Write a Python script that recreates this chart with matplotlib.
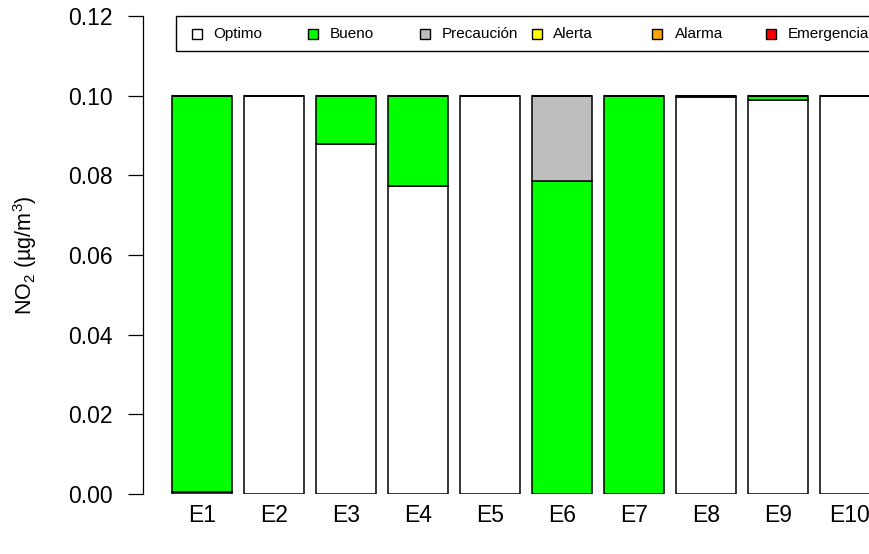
import matplotlib
matplotlib.use("Agg")
import matplotlib.pyplot as plt
from matplotlib.patches import Rectangle

# data
stations = ["E1", "E2", "E3", "E4", "E5", "E6", "E7", "E8", "E9", "E10"]
categories = ["Optimo", "Bueno", "Precaución", "Alerta", "Alarma", "Emergencia"]
colors = ["white", "#00FF00", "#BEBEBE", "#FFFF00", "#FFA500", "#FF0000"]

optimo = [0.0005, 0.1, 0.0879, 0.0772, 0.1, 0.0, 0.0, 0.0996, 0.0990, 0.1]
bueno = [0.0995, 0.0, 0.0121, 0.0228, 0.0, 0.0787, 0.1, 0.0004, 0.0010, 0.0]
precaucion = [0, 0, 0, 0, 0, 0.0213, 0, 0, 0, 0]
alerta = [0] * 10
alarma = [0] * 10
emergencia = [0] * 10
series = [optimo, bueno, precaucion, alerta, alarma, emergencia]

yticks = [0.00, 0.02, 0.04, 0.06, 0.08, 0.10, 0.12]

plt.rcParams["font.family"] = ["Liberation Sans", "DejaVu Sans"]
plt.rcParams["mathtext.fontset"] = "custom"
plt.rcParams["mathtext.rm"] = "Liberation Sans"
plt.rcParams["mathtext.it"] = "Liberation Sans"

W, H = 869, 554
fig = plt.figure(figsize=(W / 100, H / 100), dpi=100)


def fx(px):
    return px / W


def fy(py):
    return 1 - py / H


# axes placed in image pixels (R barplot layout, right side cropped)
ax = fig.add_axes([fx(143), fy(494), fx(869 - 143), (494 - 16) / H])
ax.set_xlim((143 - 160) / 60, (869 - 160) / 60)
ax.set_ylim(0, 0.12)

centers = [0.7 + 1.2 * i for i in range(len(stations))]
bottom = [0.0] * len(stations)
for vals, col in zip(series, colors):
    ax.bar(centers, vals, width=1.0, bottom=bottom, color=col,
           edgecolor="black", linewidth=1.1, clip_on=True)
    bottom = [b + v for b, v in zip(bottom, vals)]

for s in ["top", "right", "bottom"]:
    ax.spines[s].set_visible(False)
ax.spines["left"].set_bounds(0, 0.12)
ax.spines["left"].set_linewidth(0.9)
ax.set_yticks(yticks)
ax.set_yticklabels([f"{v:.2f}" for v in yticks])
ax.tick_params(axis="y", length=11, width=0.9, pad=11, labelsize=16.5)
ax.set_xticks(centers)
ax.set_xticklabels(stations)
ax.tick_params(axis="x", length=0, pad=7, labelsize=16.5)
ax.set_ylabel("NO$_2$ (µg/m$^3$)", fontsize=15.5, labelpad=21)

# horizontal legend box at the top (as in R legend(horiz=TRUE))
fig.patches.append(Rectangle((fx(176), fy(51)), fx(900 - 176), (51 - 16) / H,
                             transform=fig.transFigure, facecolor="white",
                             edgecolor="black", linewidth=1.0))
sq_x = [197, 313, 425, 537, 657, 771]
tx_x = [213, 330, 442, 553, 675, 788]
for lab, col, sx, tx in zip(categories, colors, sq_x, tx_x):
    fig.patches.append(Rectangle((fx(sx - 5), fy(39)), fx(10), 10 / H,
                                 transform=fig.transFigure, facecolor=col,
                                 edgecolor="black", linewidth=1.0))
    fig.text(fx(tx), fy(34), lab, fontsize=11, va="center", ha="left")

fig.savefig("out.png", dpi=100)
